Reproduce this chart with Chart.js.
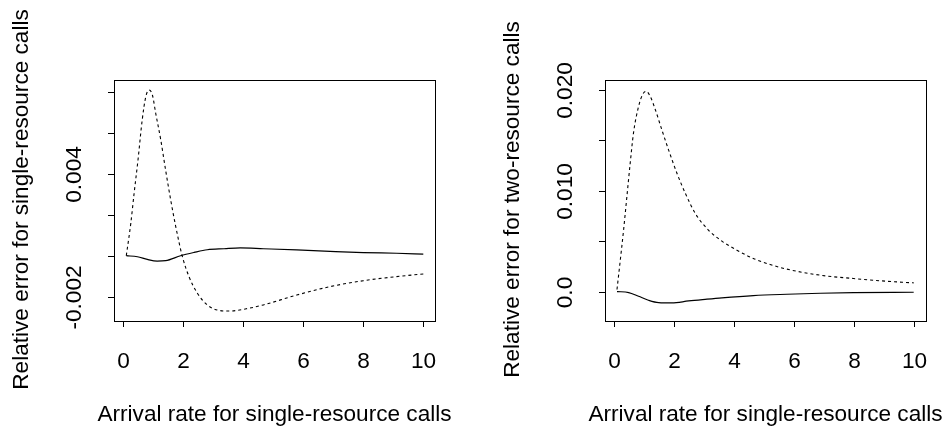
<!DOCTYPE html>
<html>
<head>
<meta charset="utf-8">
<script src="https://cdn.jsdelivr.net/npm/chart.js@4/dist/chart.umd.min.js"></script>
<style>
  html, body { margin: 0; padding: 0; background: #fff; }
  #wrap { position: relative; width: 947px; height: 428px; overflow: hidden; }
  canvas { position: absolute; top: 0; }
</style>
</head>
<body>
<div id="wrap">
  <canvas id="left" width="474" height="428" style="left:0"></canvas>
  <canvas id="right" width="473" height="428" style="left:474px"></canvas>
</div>
<script>
// values
const xTicks = [0, 2, 4, 6, 8, 10];
const xTitle = 'Arrival rate for single-resource calls';

// left panel: single-resource calls
const leftYTicks  = [-0.002, 0, 0.002, 0.004, 0.006, 0.008];
const leftYLabels = ['-0.002', '', '', '0.004', '', ''];
const leftYTitle  = 'Relative error for single-resource calls';

const leftDotX = [0.1, 0.25, 0.36, 0.49, 0.63, 0.75, 0.86, 0.97, 1.08, 1.25, 1.41, 1.58, 1.75, 1.97, 2.19, 2.47, 2.8, 3.13, 3.52, 4.1, 4.67, 5.78, 6.89, 8.0, 9.11, 10];
const leftDotY = [0, 0.00158, 0.00304, 0.00467, 0.00662, 0.00776, 0.00808, 0.00784, 0.00695, 0.00564, 0.00418, 0.00272, 0.00141, -0.00005, -0.00102, -0.00183, -0.0024, -0.00265, -0.0027, -0.00259, -0.0024, -0.00192, -0.00151, -0.00122, -0.00102, -0.00089];

const leftSolX = [0.1, 0.47, 0.8, 1.13, 1.41, 1.91, 2.36, 2.8, 3.36, 3.9, 4.67, 5.78, 6.89, 8.0, 9.11, 10];
const leftSolY = [0, -0.00005, -0.00018, -0.00026, -0.00024, 0, 0.00016, 0.00029, 0.00034, 0.00038, 0.00034, 0.00028, 0.00021, 0.00015, 0.00012, 0.00008];

// right panel: two-resource calls
const rightYTicks  = [0, 0.005, 0.010, 0.015, 0.020];
const rightYLabels = ['0.0', '', '0.010', '', '0.020'];
const rightYTitle  = 'Relative error for two-resource calls';

const rightDotX = [0.1, 0.21, 0.32, 0.43, 0.54, 0.65, 0.82, 0.95, 1.07, 1.21, 1.38, 1.6, 1.82, 2.1, 2.38, 2.71, 3.15, 3.6, 4.1, 4.65, 5.21, 5.77, 6.88, 7.99, 9.1, 10];
const rightDotY = [0.0002, 0.0031, 0.0061, 0.0094, 0.0127, 0.0157, 0.01835, 0.0195, 0.01984, 0.01934, 0.01802, 0.0160, 0.01405, 0.01173, 0.00974, 0.00775, 0.0061, 0.005, 0.0041, 0.00328, 0.00268, 0.00222, 0.00162, 0.00129, 0.00102, 0.00086];

const rightSolX = [0.1, 0.49, 0.82, 1.15, 1.49, 1.93, 2.49, 3.04, 3.6, 4.65, 5.77, 6.88, 7.99, 10];
const rightSolY = [0, -0.0001, -0.00047, -0.00086, -0.0011, -0.00113, -0.00093, -0.00077, -0.00062, -0.0004, -0.00027, -0.00017, -0.0001, -0.00007];

const FONT = '22.6px "Liberation Sans", Arial, Helvetica, sans-serif';

function pts(xs, ys) {
  return xs.map((x, i) => ({ x, y: ys[i] }));
}

// R-style box, ticks and labels drawn from the chart's scales
function rAxes(yTicks, yLabels, yTitle, tickLabelGap, titleGap) {
  return {
    id: 'rAxes',
    afterDraw(chart) {
      const { ctx, chartArea: a, scales } = chart;
      const xs = scales.x, ys = scales.y;
      ctx.save();
      ctx.strokeStyle = '#000';
      ctx.fillStyle = '#000';
      ctx.lineWidth = 1;
      ctx.strokeRect(Math.round(a.left) + 0.5, Math.round(a.top) + 0.5,
        Math.round(a.right - a.left), Math.round(a.bottom - a.top));

      ctx.font = FONT;
      // x ticks
      ctx.textAlign = 'center';
      ctx.textBaseline = 'alphabetic';
      xTicks.forEach(v => {
        const px = Math.round(xs.getPixelForValue(v)) + 0.5;
        ctx.beginPath();
        ctx.moveTo(px, a.bottom);
        ctx.lineTo(px, a.bottom + 6);
        ctx.stroke();
        ctx.fillText(String(v), px, a.bottom + 47);
      });
      ctx.fillText(xTitle, (a.left + a.right) / 2, a.bottom + 100);

      // y ticks
      yTicks.forEach((v, i) => {
        const py = Math.round(ys.getPixelForValue(v)) + 0.5;
        ctx.beginPath();
        ctx.moveTo(a.left, py);
        ctx.lineTo(a.left - 6, py);
        ctx.stroke();
        if (yLabels[i]) {
          ctx.save();
          ctx.translate(a.left - tickLabelGap, py);
          ctx.rotate(-Math.PI / 2);
          ctx.fillText(yLabels[i], 0, 0);
          ctx.restore();
        }
      });
      ctx.save();
      ctx.translate(a.left - titleGap, (a.top + a.bottom) / 2 - 1);
      ctx.rotate(-Math.PI / 2);
      ctx.fillText(yTitle, 0, 0);
      ctx.restore();
      ctx.restore();
    }
  };
}

function buildPanel(id, dot, sol, xr, yr, pad, yTicks, yLabels, yTitle) {
  return new Chart(document.getElementById(id), {
    type: 'line',
    data: {
      datasets: [
        {
          data: dot,
          borderColor: '#000',
          borderWidth: 1.1,
          borderDash: [3, 3],
          pointRadius: 0,
          cubicInterpolationMode: 'monotone',
          fill: false
        },
        {
          data: sol,
          borderColor: '#000',
          borderWidth: 1.2,
          pointRadius: 0,
          cubicInterpolationMode: 'monotone',
          fill: false
        }
      ]
    },
    options: {
      responsive: false,
      animation: false,
      events: [],
      layout: { padding: pad },
      plugins: { legend: { display: false }, tooltip: { enabled: false } },
      scales: {
        x: { type: 'linear', display: false, min: xr[0], max: xr[1] },
        y: { type: 'linear', display: false, min: yr[0], max: yr[1] }
      }
    },
    plugins: [rAxes(yTicks, yLabels, yTitle, 33, 86)]
  });
}

buildPanel('left', pts(leftDotX, leftDotY), pts(leftSolX, leftSolY),
  [-0.31, 10.39], [-0.003185, 0.008571],
  { left: 114, right: 39, top: 80, bottom: 107 },
  leftYTicks, leftYLabels, leftYTitle);

buildPanel('right', pts(rightDotX, rightDotY), pts(rightSolX, rightSolY),
  [-0.30, 10.41], [-0.00292, 0.02097],
  { left: 131, right: 21, top: 80, bottom: 107 },
  rightYTicks, rightYLabels, rightYTitle);
</script>
</body>
</html>
